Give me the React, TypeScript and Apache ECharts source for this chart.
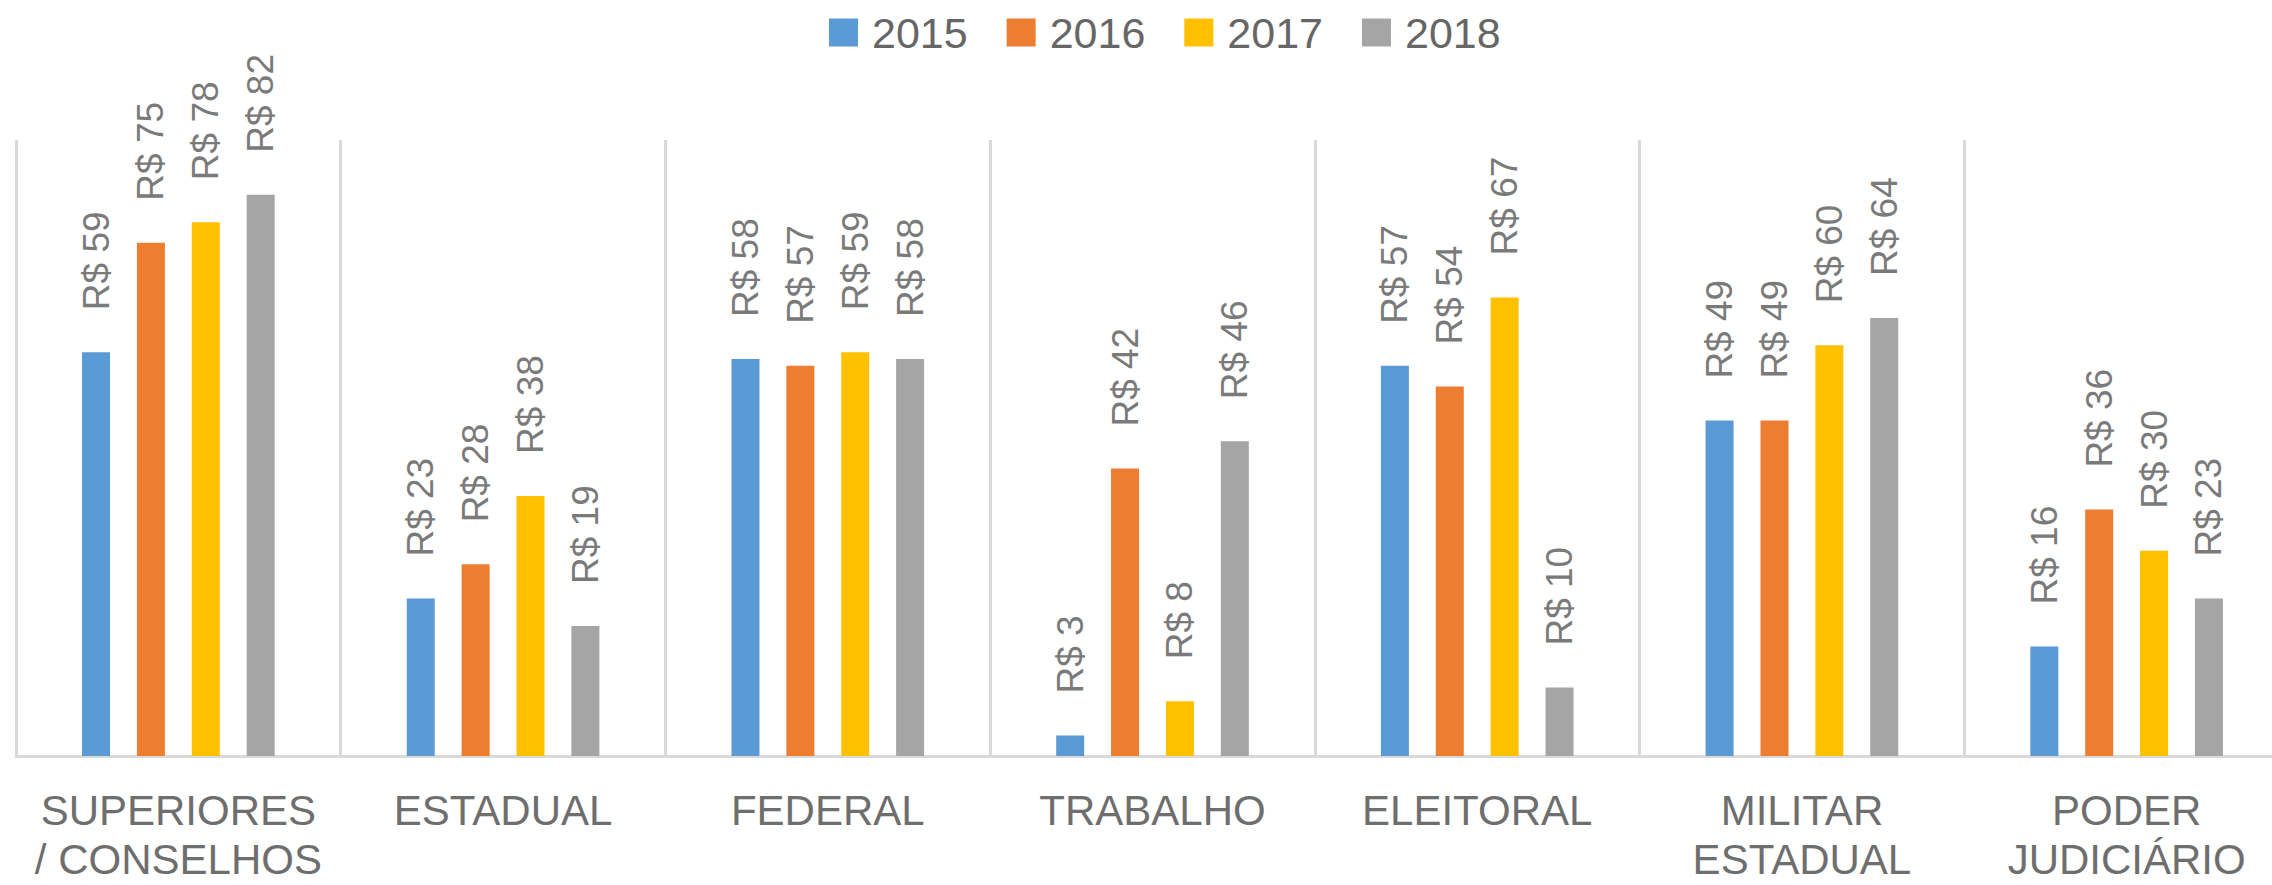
import React, { useEffect, useRef } from "react";
import * as echarts from "echarts";

const categories = [
  "SUPERIORES / CONSELHOS",
  "ESTADUAL",
  "FEDERAL",
  "TRABALHO",
  "ELEITORAL",
  "MILITAR ESTADUAL",
  "PODER JUDICIÁRIO",
];
const years = ["2015", "2016", "2017", "2018"];
const values2015 = [59, 23, 58, 3, 57, 49, 16];
const values2016 = [75, 28, 57, 42, 54, 49, 36];
const values2017 = [78, 38, 59, 8, 67, 60, 30];
const values2018 = [82, 19, 58, 46, 10, 64, 23];
const colors = ["#5B9BD5", "#ED7D31", "#FFC000", "#A5A5A5"];

const FONT = "'Liberation Sans', Arial, sans-serif";

export default function App() {
  const ref = useRef<HTMLDivElement>(null);
  useEffect(() => {
    if (!ref.current) return;
    const chart = echarts.init(ref.current, undefined, { renderer: "svg" });
    const seriesData = [values2015, values2016, values2017, values2018];
    chart.setOption({
      animation: false,
      backgroundColor: "#ffffff",
      color: colors,
      textStyle: { fontFamily: FONT },
      legend: {
        data: years,
        top: 6,
        left: 824,
        itemWidth: 29,
        itemHeight: 28,
        itemGap: 39,
        icon: "rect",
        textStyle: { fontSize: 43, color: "#666666", fontFamily: FONT, padding: [0, 0, 0, 9] },
      },
      grid: {
        left: 16,
        width: 2273,
        top: 140,
        bottom: 129,
        containLabel: false,
        outerBoundsMode: "none",
      },
      xAxis: {
        type: "category",
        data: categories,
        boundaryGap: true,
        axisLine: { show: true, lineStyle: { color: "#D9D9D9", width: 3 } },
        axisTick: { show: false },
        splitLine: { show: true, lineStyle: { color: "#D9D9D9", width: 3 } },
        axisLabel: {
          interval: 0,
          margin: 30,
          fontSize: 42,
          lineHeight: 49,
          color: "#6E6E6E",
          fontFamily: FONT,
          formatter: (v: string) =>
            v.indexOf(" / ") >= 0 ? v.replace(" / ", "\n/ ") : v.replace(" ", "\n"),
        },
      },
      yAxis: {
        type: "value",
        min: 0,
        max: 90,
        show: false,
        splitLine: { show: false },
      },
      series: years.map((y, i) => ({
        name: y,
        type: "bar",
        data: seriesData[i],
        barWidth: 28,
        barGap: "96%",
        itemStyle: { color: colors[i] },
        label: {
          show: true,
          position: "top",
          rotate: 90,
          align: "left",
          verticalAlign: "middle",
          distance: 42,
          fontSize: 37,
          color: "#7A7A7A",
          fontFamily: FONT,
          formatter: (p: any) => "R$ " + p.value,
        },
      })),
    });
    return () => chart.dispose();
  }, []);
  return (
    <div
      ref={ref}
      style={{ position: "fixed", left: 0, top: 0, width: 2272, height: 885 }}
    />
  );
}
